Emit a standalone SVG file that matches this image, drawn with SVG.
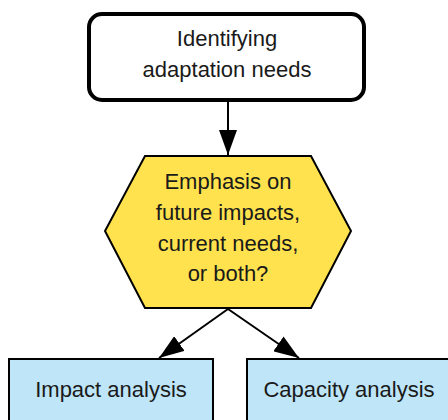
<svg xmlns="http://www.w3.org/2000/svg" width="448" height="420" viewBox="0 0 448 420">
<defs>
<style>
text{font-family:"Liberation Sans",Arial,sans-serif;font-size:22px;fill:#1a1a1a;text-anchor:middle}
.edge{stroke:#000;stroke-width:2;fill:none}
</style>
<marker id="ah" markerWidth="25" markerHeight="18" refX="25" refY="9" orient="auto" markerUnits="userSpaceOnUse">
<path d="M0,0 L25,9 L0,18 Z" fill="#000"/>
</marker>
</defs>
<rect width="448" height="420" fill="#fff"/>
<g id="connectors">
<line class="edge" x1="228" y1="102" x2="228" y2="155" marker-end="url(#ah)"/>
<line class="edge" x1="228" y1="309" x2="159" y2="358" marker-end="url(#ah)"/>
<line class="edge" x1="228" y1="309" x2="299" y2="358" marker-end="url(#ah)"/>
</g>
<g id="identify">
<rect x="89" y="14" width="275" height="86" rx="13" fill="#fff" stroke="#000" stroke-width="4"/>
<text x="227" y="46">Identifying</text>
<text x="227" y="77">adaptation needs</text>
</g>
<g id="emphasis">
<polygon points="145,156 311,156 351,231 311,308 145,308 105,231" fill="#FFE24E" stroke="#000" stroke-width="2"/>
<text x="228" y="189">Emphasis on</text>
<text x="228" y="220">future impacts,</text>
<text x="228" y="251">current needs,</text>
<text x="228" y="281">or both?</text>
</g>
<g id="impact">
<rect x="9" y="359" width="204" height="70" fill="#BEE5F8" stroke="#000" stroke-width="2"/>
<text x="111" y="397">Impact analysis</text>
</g>
<g id="capacity">
<rect x="247" y="359" width="204" height="70" fill="#BEE5F8" stroke="#000" stroke-width="2"/>
<text x="349" y="397">Capacity analysis</text>
</g>
</svg>
